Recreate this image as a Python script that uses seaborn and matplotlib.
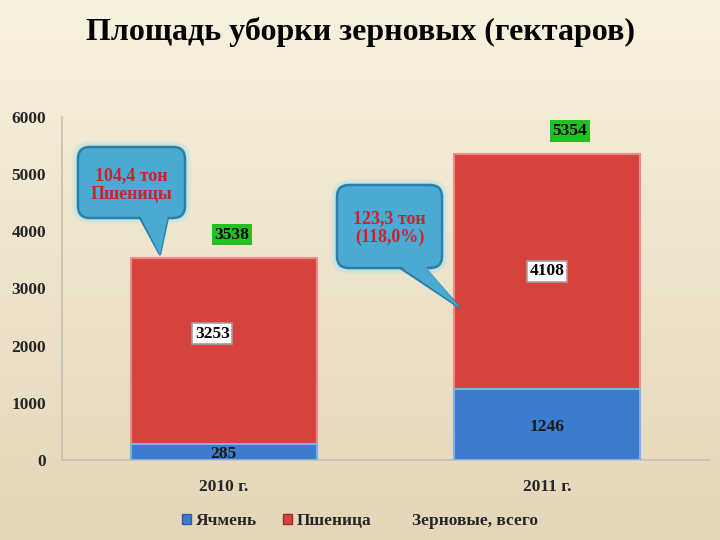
import numpy as np
import pandas as pd
import matplotlib
matplotlib.use("Agg")
import matplotlib.pyplot as plt
import seaborn as sns
from matplotlib.patches import FancyBboxPatch, Polygon, Patch

years = ["2010 г.", "2011 г."]
barley = [285, 1246]
wheat = [3253, 4108]
totals = [3538, 5354]
yticks = [0, 1000, 2000, 3000, 4000, 5000, 6000]
title = "Площадь уборки зерновых (гектаров)"
legend_labels = ["Ячмень", "Пшеница", "Зерновые, всего"]
callout_texts = ["104,4 тон\nПшеницы", "123,3 тон\n(118,0%)"]

sns.set_theme(style="white")
plt.rcParams['font.family'] = ['Liberation Serif', 'DejaVu Serif']

fig = plt.figure(figsize=(7.2, 5.4), dpi=100)

# background gradient
bg = fig.add_axes([0, 0, 1, 1], zorder=-10)
grad = np.linspace(0, 1, 256).reshape(-1, 1)
top = np.array([0.975, 0.945, 0.875])
bot = np.array([0.895, 0.840, 0.725])
img = top[None, None, :] * (1 - grad[:, :, None]) + bot[None, None, :] * grad[:, :, None]
bg.imshow(img, aspect='auto', extent=[0, 1, 0, 1])
bg.axis('off')

ax = fig.add_axes([62/720, 1-460/540, (709-62)/720, (460-117)/540])
ax.set_facecolor('none')

df = pd.DataFrame({"year": years, "barley": barley, "wheat": wheat, "total": totals})

red = "#d6433f"
blue = "#3b7ccf"
sns.barplot(data=df, x="year", y="total", color=red, width=0.574, saturation=1,
            edgecolor="#f08a86", linewidth=1.5, ax=ax, zorder=2)
sns.barplot(data=df, x="year", y="barley", color=blue, width=0.574, saturation=1,
            edgecolor="#7fb0e6", linewidth=1.5, ax=ax, zorder=3)

ax.set_xlim(-0.5, 1.5)
ax.set_ylim(0, 6000)
ax.set_yticks(yticks)
ax.set_yticklabels([str(v) for v in yticks], fontsize=12.5, fontweight='bold')
ax.set_xticks(range(len(years)))
ax.set_xticklabels(years, fontsize=12.5, fontweight='bold')
ax.tick_params(axis='x', pad=14, length=0)
ax.tick_params(axis='y', pad=11.5, length=0)
ax.set_xlabel("")
ax.set_ylabel("")
for s in ["top", "right"]:
    ax.spines[s].set_visible(False)
for s in ["left", "bottom"]:
    ax.spines[s].set_color("#c8c0b0")
    ax.spines[s].set_linewidth(1.2)

# value labels
total_dx = [0.025, 0.07]
for i in range(len(years)):
    ax.text(i + total_dx[i], totals[i] + 400, str(totals[i]), ha='center', va='center',
            fontsize=12.5, fontweight='bold', color='black', zorder=5,
            bbox=dict(boxstyle='square,pad=0.15', fc='#22c020', ec='none'))
    wy = barley[i] + wheat[i] / 2 + (300 if i == 0 else 0)
    ax.text(i - (0.035 if i == 0 else 0), wy, str(wheat[i]), ha='center', va='center',
            fontsize=12.5, fontweight='bold', color='black', zorder=5,
            bbox=dict(boxstyle='square,pad=0.15', fc='white', ec='#a0a0a0', lw=1.2))
    ax.text(i, barley[i] / 2 - 40, str(barley[i]), ha='center', va='center',
            fontsize=12.5, fontweight='bold', color='#1a1a1a', zorder=5)

# overlay for callouts (pixel coordinates)
ov = fig.add_axes([0, 0, 1, 1], zorder=5)
ov.set_xlim(0, 720)
ov.set_ylim(540, 0)
ov.axis('off')

def callout(x0, y0, x1, y1, tail, text):
    for w, a in [(9, 0.12), (6, 0.2), (3, 0.3)]:
        ov.add_patch(FancyBboxPatch((x0, y0), x1 - x0, y1 - y0,
                                    boxstyle="round,pad=0,rounding_size=12",
                                    fc='none', ec='#7fe0f5', lw=w, alpha=a))
    ov.add_patch(Polygon(tail, closed=True, fc='#4aaad4', ec='#2d7fa6', lw=1.5))
    ov.add_patch(FancyBboxPatch((x0, y0), x1 - x0, y1 - y0,
                                boxstyle="round,pad=0,rounding_size=12",
                                fc='#4aaad4', ec='#2d7fa6', lw=1.8))
    ov.add_patch(Polygon([(p[0], p[1] - 2.5) for p in tail[:1]] + [tail[1]] +
                         [(p[0], p[1] - 2.5) for p in tail[2:]],
                         closed=True, fc='#4aaad4', ec='none'))
    ov.text((x0 + x1) / 2, (y0 + y1) / 2 + 2, text, ha='center', va='center',
            fontsize=13, fontweight='bold', color='#c8242a', linespacing=1.1)

callout(78, 147, 185, 218, [(140, 218), (160, 255), (168, 218)], callout_texts[0])
callout(337, 185, 442, 268, [(400, 268), (460, 308), (425, 268)], callout_texts[1])

fig.text(0.5, 1 - 32/540, title, ha='center', va='center', fontsize=23,
         fontweight='bold', color='black')

handles = [Patch(fc=blue, ec='#2a5fa8'), Patch(fc=red, ec='#a02a28'), Patch(fc='none', ec='none')]
leg = fig.legend(handles, legend_labels, loc='center', bbox_to_anchor=(0.5, 1 - 521/540),
                 ncol=3, frameon=False, handlelength=0.5, handleheight=0.5,
                 handletextpad=0.3, columnspacing=1.5,
                 prop=dict(family='Liberation Serif', weight='bold', size=12.5))

fig.savefig("out.png", dpi=100)
